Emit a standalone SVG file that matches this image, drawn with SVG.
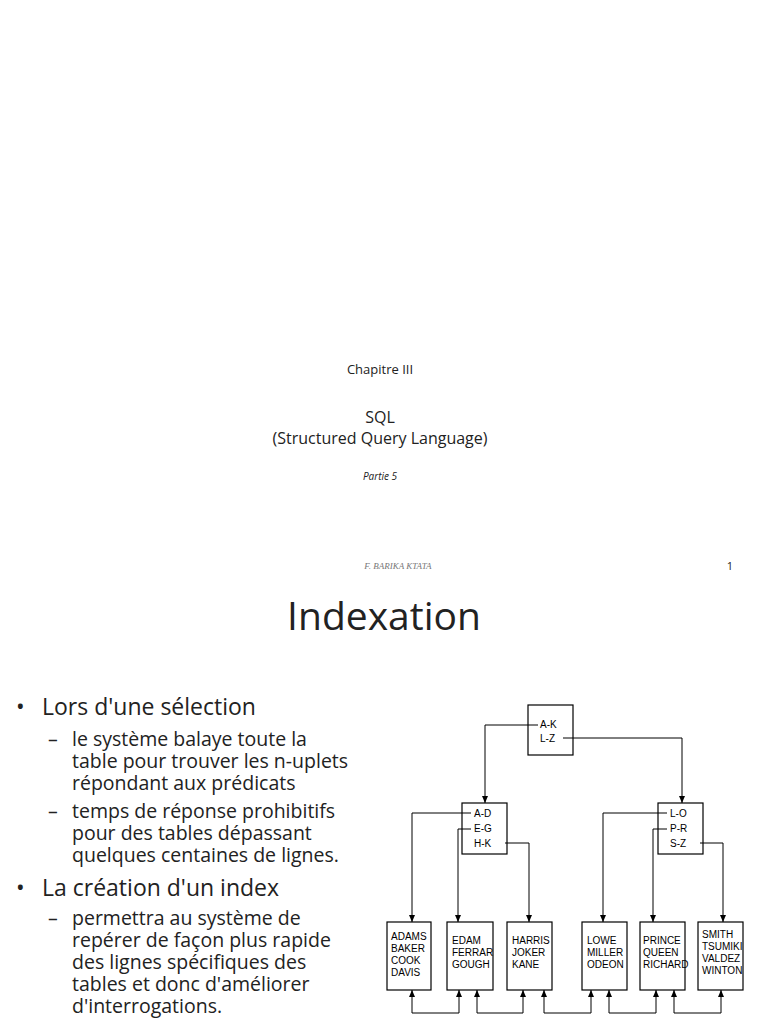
<svg xmlns="http://www.w3.org/2000/svg" width="768" height="1024" viewBox="0 0 768 1024">
<defs>
<marker id="ar" markerWidth="7" markerHeight="6" refX="7" refY="3" orient="auto-start-reverse" markerUnits="userSpaceOnUse" viewBox="0 0 7 6"><path d="M0,0 L7,3 L0,6 z" fill="#000"/></marker>
</defs>
<style>
.t{font-family:"Open Sans","Liberation Sans",sans-serif;fill:#222}
.n{fill:#fff;stroke:#000;stroke-width:1.2}
.k{font-family:"Liberation Sans",sans-serif;font-size:10px;fill:#000}
.c{fill:none;stroke:#000;stroke-width:1;marker-end:url(#ar)}
.b{fill:none;stroke:#000;stroke-width:1;marker-start:url(#ar);marker-end:url(#ar)}
</style>
<rect width="768" height="1024" fill="#fff"/>
<text class="t" x="380" y="374" font-size="13" text-anchor="middle">Chapitre III</text>
<text class="t" x="380" y="423" font-size="16" text-anchor="middle">SQL</text>
<text class="t" x="380" y="444" font-size="16" text-anchor="middle">(Structured Query Language)</text>
<text class="t" x="380" y="480" font-size="10" font-style="italic" text-anchor="middle">Partie 5</text>
<text x="398" y="569" font-family="Liberation Serif,serif" font-size="9" font-style="italic" fill="#777" text-anchor="middle">F. BARIKA KTATA</text>
<text class="t" x="730" y="570" font-size="11" fill="#777" text-anchor="middle">1</text>
<text class="t" x="384" y="630" font-size="39" text-anchor="middle">Indexation</text>
<g class="t" font-size="23">
<text x="16" y="715">•</text><text x="42" y="715">Lors d'une sélection</text>
<text x="16" y="896">•</text><text x="42" y="896">La création d'un index</text>
</g>
<g class="t" font-size="19.5">
<text x="48" y="746">–</text><text x="72" y="746">le système balaye toute la</text>
<text x="72" y="768">table pour trouver les n-uplets</text>
<text x="72" y="790">répondant aux prédicats</text>
<text x="48" y="818">–</text><text x="72" y="818">temps de réponse prohibitifs</text>
<text x="72" y="840">pour des tables dépassant</text>
<text x="72" y="862">quelques centaines de lignes.</text>
<text x="48" y="925">–</text><text x="72" y="925">permettra au système de</text>
<text x="72" y="947">repérer de façon plus rapide</text>
<text x="72" y="969">des lignes spécifiques des</text>
<text x="72" y="991">tables et donc d'améliorer</text>
<text x="72" y="1013">d'interrogations.</text>
</g>
<g id="root"><rect class="n" x="528" y="705" width="45" height="50"/><text class="k" x="540" y="728">A-K</text><text class="k" x="540" y="742">L-Z</text></g>
<g id="m1"><rect class="n" x="462" y="803" width="45" height="51"/><text class="k" x="474" y="817">A-D</text><text class="k" x="474" y="832">E-G</text><text class="k" x="474" y="847">H-K</text></g>
<g id="m2"><rect class="n" x="658" y="803" width="45" height="51"/><text class="k" x="670" y="817">L-O</text><text class="k" x="670" y="832">P-R</text><text class="k" x="670" y="847">S-Z</text></g>
<g class="k" font-size="9.5">
<g id="l1"><rect class="n" x="387" y="922" width="44" height="68"/><text x="391" y="940">ADAMS</text><text x="391" y="952">BAKER</text><text x="391" y="964">COOK</text><text x="391" y="976">DAVIS</text></g>
<g id="l2"><rect class="n" x="447" y="922" width="46" height="68"/><text x="452" y="944">EDAM</text><text x="452" y="956">FERRAR</text><text x="452" y="968">GOUGH</text></g>
<g id="l3"><rect class="n" x="507" y="922" width="45" height="68"/><text x="512" y="944">HARRIS</text><text x="512" y="956">JOKER</text><text x="512" y="968">KANE</text></g>
<g id="l4"><rect class="n" x="582" y="922" width="45" height="68"/><text x="587" y="944">LOWE</text><text x="587" y="956">MILLER</text><text x="587" y="968">ODEON</text></g>
<g id="l5"><rect class="n" x="640" y="922" width="45" height="68"/><text x="643" y="944">PRINCE</text><text x="643" y="956">QUEEN</text><text x="643" y="968">RICHARD</text></g>
<g id="l6"><rect class="n" x="698" y="922" width="45" height="68"/><text x="702" y="938">SMITH</text><text x="702" y="950">TSUMIKI</text><text x="702" y="962">VALDEZ</text><text x="702" y="974">WINTON</text></g>
</g>
<g id="connectors">
<path class="c" d="M538,725 H485 V803"/>
<path class="c" d="M563,738 H682 V803"/>
<path class="c" d="M471,813 H412 V922"/>
<path class="c" d="M471,829 H458 V922"/>
<path class="c" d="M505,843 H529 V922"/>
<path class="c" d="M667,813 H603 V922"/>
<path class="c" d="M667,829 H653 V922"/>
<path class="c" d="M700,843 H723 V922"/>
<path class="b" d="M412,990 V1013 H459 V990"/>
<path class="b" d="M477,990 V1013 H523 V990"/>
<path class="b" d="M544,990 V1013 H591 V990"/>
<path class="b" d="M609,990 V1013 H656 V990"/>
<path class="b" d="M674,990 V1013 H721 V990"/>
</g>
</svg>
